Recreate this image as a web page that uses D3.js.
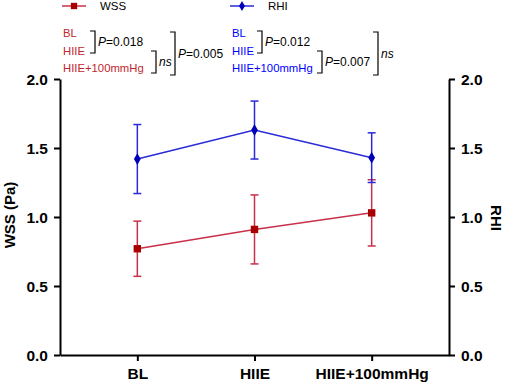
<!DOCTYPE html>
<html>
<head>
<meta charset="utf-8">
<script src="https://cdn.jsdelivr.net/npm/d3@7"></script>
<style>
  body { margin: 0; background: #fff; }
  svg { font-family: "Liberation Sans", Arial, sans-serif; }
</style>
</head>
<body>
<div id="chart"></div>
<script>
// data
const categories = ["BL", "HIIE", "HIIE+100mmHg"];
const wssMean = [0.77, 0.91, 1.03];
const wssErr = [0.20, 0.25, 0.24];
const rhiMean = [1.42, 1.63, 1.43];
const rhiErr = [0.25, 0.21, 0.18];
const yTicks = [0.0, 0.5, 1.0, 1.5, 2.0];

const width = 505, height = 386;
const margin = { top: 79, right: 56, bottom: 31, left: 60 };

const svg = d3.select("#chart").append("svg")
    .attr("width", width)
    .attr("height", height);

const x = d3.scalePoint()
    .domain(categories)
    .range([margin.left, width - margin.right])
    .padding(0.66);

const y = d3.scaleLinear()
    .domain([0, 2])
    .range([height - margin.bottom, margin.top]);

// axes
const yLeft = svg.append("g")
    .attr("transform", `translate(${margin.left},0)`)
    .call(d3.axisLeft(y).tickValues(yTicks).tickFormat(d3.format(".1f")).tickSize(6).tickSizeOuter(0));

const yRight = svg.append("g")
    .attr("transform", `translate(${width - margin.right},0)`)
    .call(d3.axisRight(y).tickValues(yTicks).tickFormat(d3.format(".1f")).tickSize(6).tickSizeOuter(0));

const xAxis = svg.append("g")
    .attr("transform", `translate(0,${height - margin.bottom})`)
    .call(d3.axisBottom(x).tickSize(6).tickSizeOuter(0));

[yLeft, yRight, xAxis].forEach(g => {
    g.select(".domain").attr("stroke", "#000").attr("stroke-width", 2);
    g.selectAll(".tick line").attr("stroke", "#000").attr("stroke-width", 2);
    g.selectAll(".tick text")
        .attr("fill", "#000")
        .style("font-size", "15.5px")
        .style("font-weight", "bold");
});
yLeft.selectAll(".tick text").attr("x", -12).attr("dy", "0.36em");
yRight.selectAll(".tick text").attr("x", 12).attr("dy", "0.36em");
xAxis.selectAll(".tick text").attr("y", 11).attr("dy", "0.85em");

// axis titles
svg.append("text")
    .attr("transform", `translate(15,215) rotate(-90)`)
    .attr("text-anchor", "middle")
    .style("font-size", "15px")
    .style("font-weight", "bold")
    .text("WSS (Pa)");

svg.append("text")
    .attr("transform", `translate(491,218) rotate(90)`)
    .attr("text-anchor", "middle")
    .style("font-size", "15px")
    .style("font-weight", "bold")
    .text("RHI");

// series
function drawSeries(means, errs, lineColor, markColor, shape, size) {
    const g = svg.append("g");
    const line = d3.line().x((d, i) => x(categories[i])).y(d => y(d));
    g.append("path")
        .datum(means)
        .attr("d", line)
        .attr("fill", "none")
        .attr("stroke", lineColor)
        .attr("stroke-width", 1.5);

    means.forEach((m, i) => {
        const cx = x(categories[i]);
        g.append("line")
            .attr("x1", cx).attr("x2", cx)
            .attr("y1", y(m - errs[i])).attr("y2", y(m + errs[i]))
            .attr("stroke", lineColor).attr("stroke-width", 1.5);
        [m - errs[i], m + errs[i]].forEach(v => {
            g.append("line")
                .attr("x1", cx - 4).attr("x2", cx + 4)
                .attr("y1", y(v)).attr("y2", y(v))
                .attr("stroke", lineColor).attr("stroke-width", 1.5);
        });
    });

    g.selectAll("path.mark")
        .data(means)
        .enter().append("path")
        .attr("class", "mark")
        .attr("transform", (d, i) => `translate(${x(categories[i])},${y(d)})`)
        .attr("d", d3.symbol().type(shape).size(size))
        .attr("fill", markColor);
}

drawSeries(wssMean, wssErr, "#c9304a", "#a80000", d3.symbolSquare, 55);
drawSeries(rhiMean, rhiErr, "#2a2ad8", "#0000b8", d3.symbolDiamond, 40);

// legend
function legendItem(x0, color, markColor, shape, size, label) {
    svg.append("line")
        .attr("x1", x0).attr("x2", x0 + 24)
        .attr("y1", 6).attr("y2", 6)
        .attr("stroke", color).attr("stroke-width", 1.5);
    svg.append("path")
        .attr("transform", `translate(${x0 + 12},6)`)
        .attr("d", d3.symbol().type(shape).size(size))
        .attr("fill", markColor);
    svg.append("text")
        .attr("x", x0 + 38).attr("y", 10)
        .style("font-size", "11.5px")
        .text(label);
}
legendItem(62, "#c9304a", "#a80000", d3.symbolSquare, 40, "WSS");
legendItem(230, "#2a2ad8", "#0000b8", d3.symbolDiamond, 30, "RHI");

// significance annotations
function bracket(xv, y1, y2) {
    svg.append("path")
        .attr("d", `M${xv - 5},${y1}H${xv}V${y2}H${xv - 5}`)
        .attr("fill", "none")
        .attr("stroke", "#000")
        .attr("stroke-width", 1.2);
}
function pLabel(x0, yc, value) {
    const t = svg.append("text")
        .attr("x", x0).attr("y", yc + 4)
        .style("font-size", "12px");
    if (value === "ns") {
        t.append("tspan").style("font-style", "italic").text("ns");
    } else {
        t.append("tspan").style("font-style", "italic").text("P");
        t.append("tspan").text("=" + value);
    }
}
function group(x0, color, brackets) {
    categories.forEach((c, i) => {
        svg.append("text")
            .attr("x", x0).attr("y", 37 + i * 17.5)
            .attr("fill", color)
            .style("font-size", "11.3px")
            .text(c);
    });
    brackets.forEach(b => {
        bracket(b.x, b.y1, b.y2);
        pLabel(b.x + 3, (b.y1 + b.y2) / 2, b.label);
    });
}

group(63, "#c1272d", [
    { x: 95, y1: 31, y2: 53, label: "0.018" },
    { x: 156, y1: 51, y2: 73, label: "ns" },
    { x: 175, y1: 32, y2: 75, label: "0.005" }
]);
group(232, "#0000ff", [
    { x: 262, y1: 31, y2: 53, label: "0.012" },
    { x: 322, y1: 51, y2: 73, label: "0.007" },
    { x: 378, y1: 32, y2: 75, label: "ns" }
]);
</script>
</body>
</html>
